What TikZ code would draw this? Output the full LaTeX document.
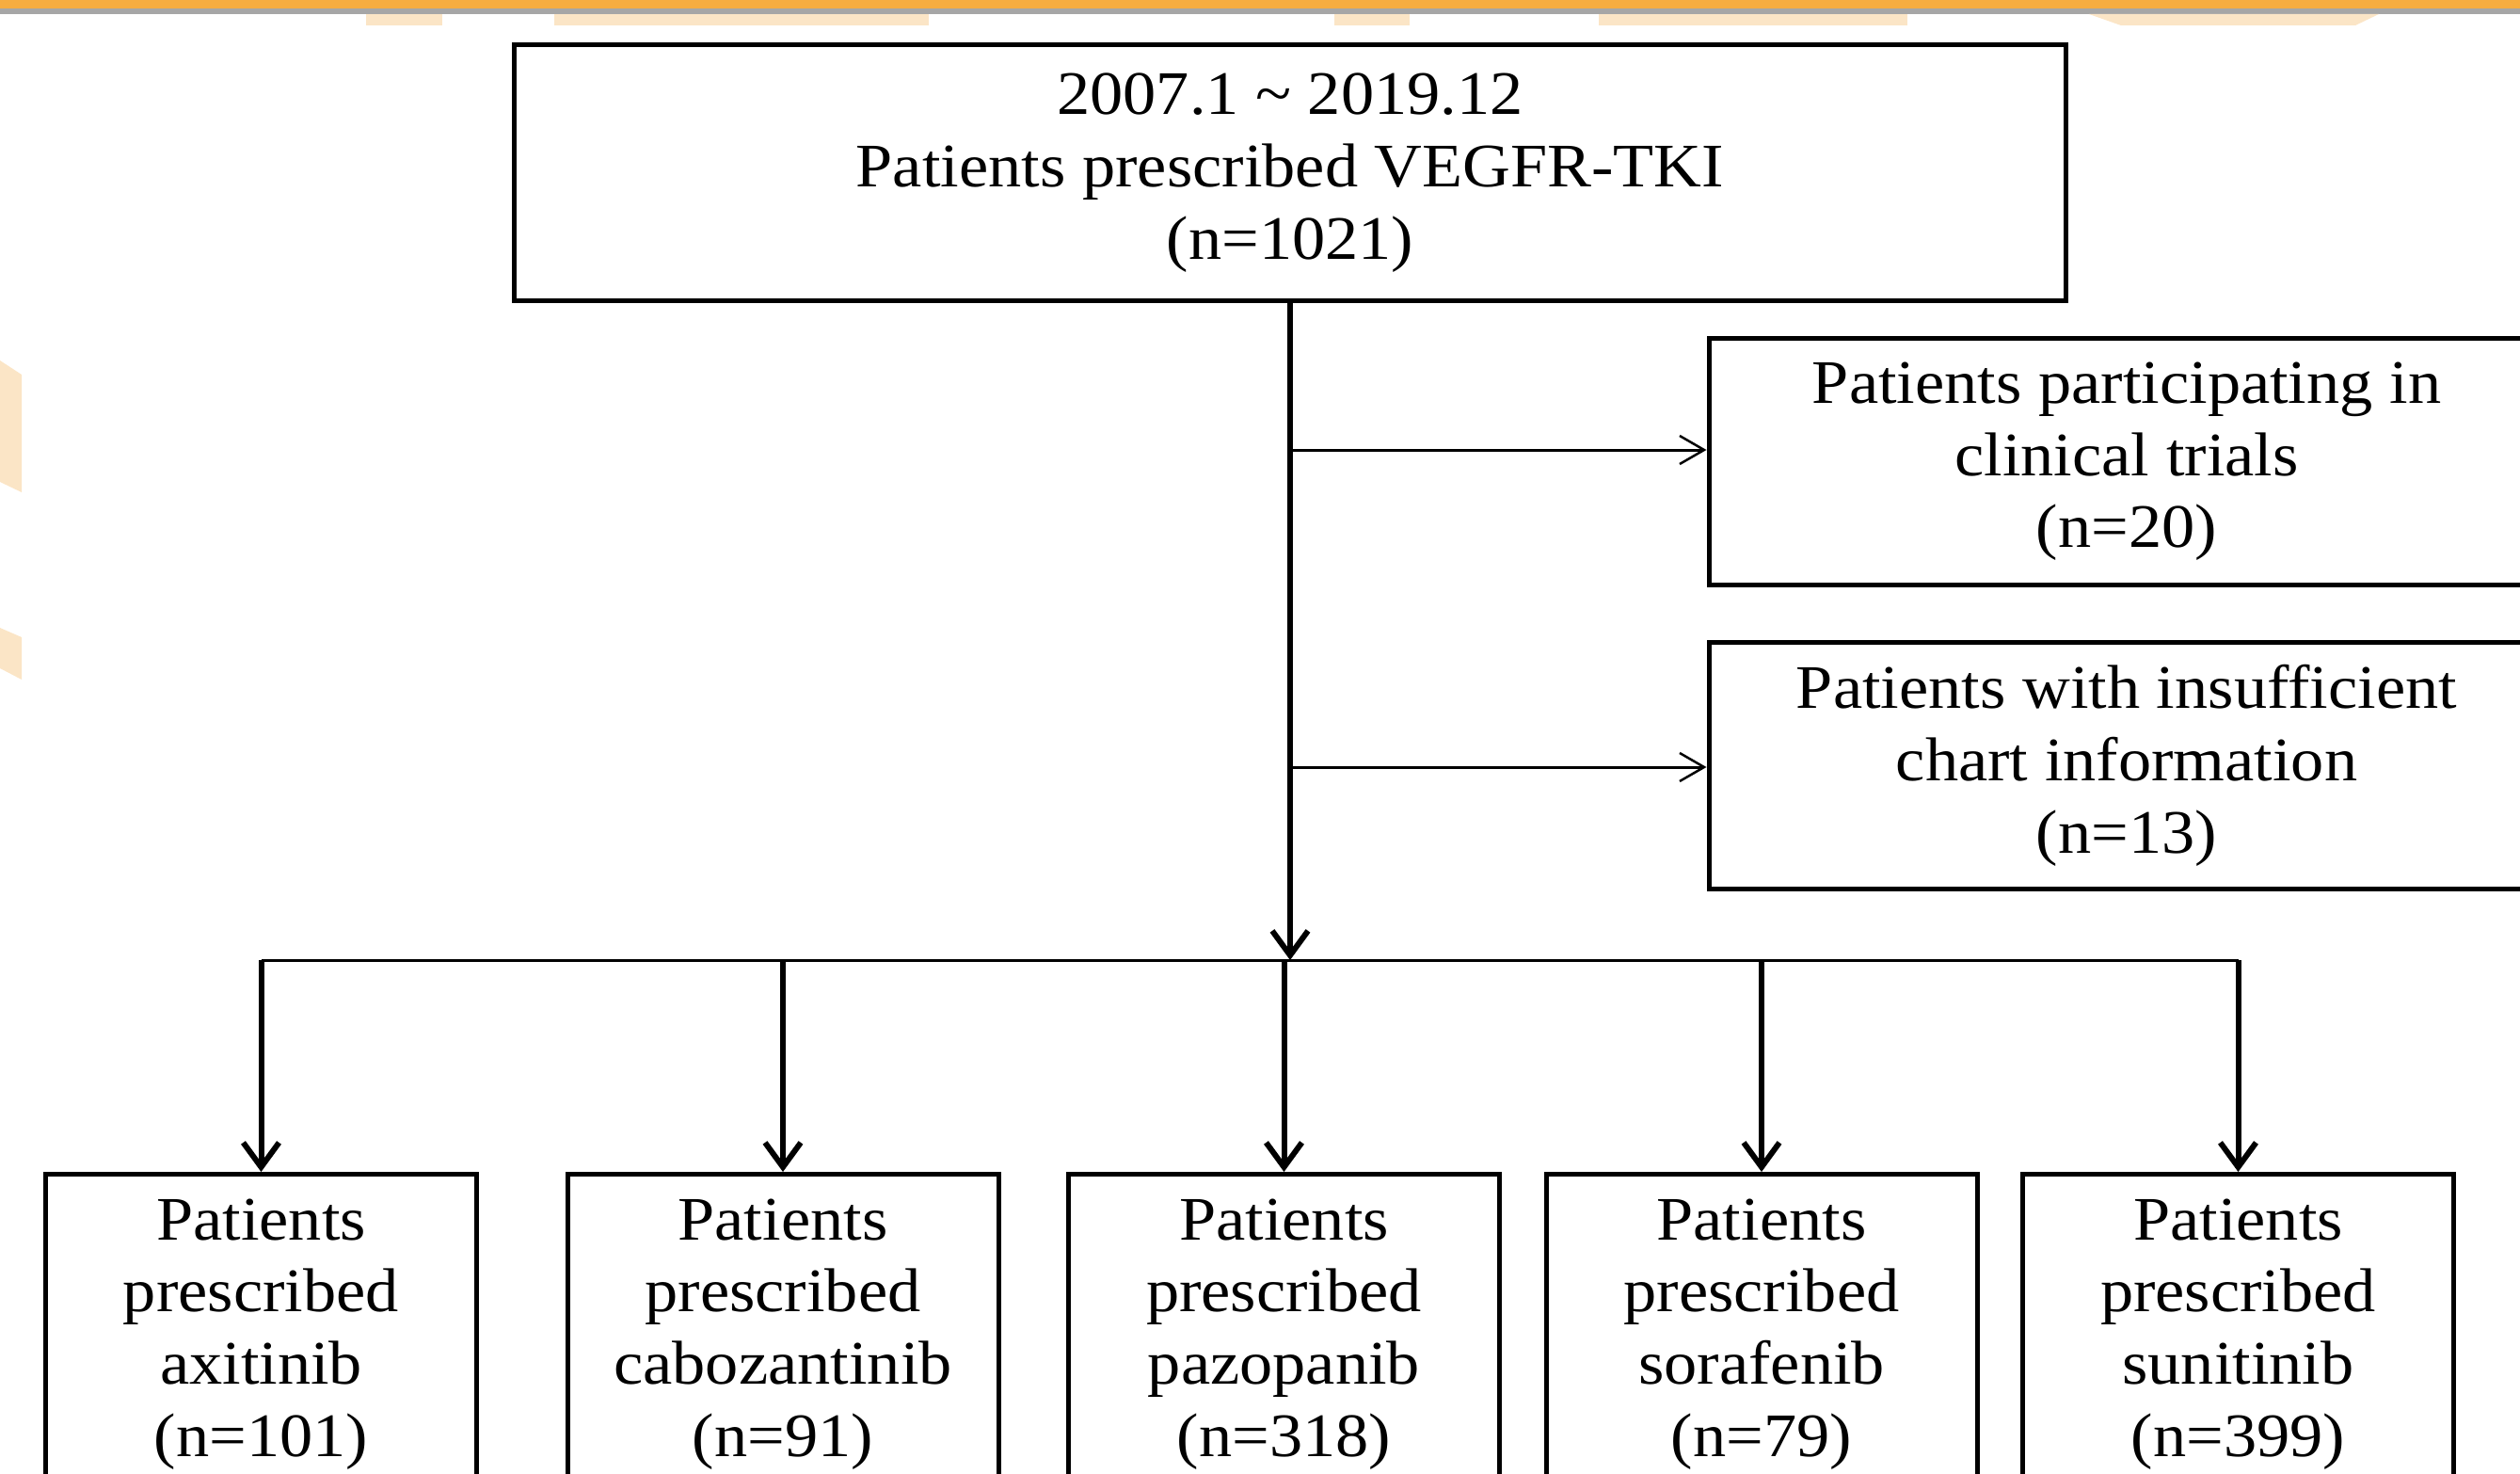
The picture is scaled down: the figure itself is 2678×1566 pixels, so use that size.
\documentclass[tikz,border=0pt]{standalone}
\usepackage{fontspec}
\setmainfont{Liberation Serif}[FakeStretch=1.07]
\usepackage{tikz}
\usetikzlibrary{arrows.meta,positioning}
\definecolor{bandorange}{RGB}{246,173,65}
\definecolor{bandgray}{RGB}{166,166,166}
\definecolor{paleorange}{RGB}{251,229,198}

\begin{document}
\begin{tikzpicture}[x=1bp, y=-1bp,
  box/.style={draw=black, line width=5bp, align=center, inner sep=0pt,
    font=\fontsize{66}{77}\selectfont},
  drugbox/.style={box, anchor=north, minimum width=458bp, minimum height=340bp},
  sidebox/.style={box, minimum width=888bp, minimum height=262bp},
  mainline/.style={black, line width=6bp, -{Straight Barb[length=26bp, width=38bp]}},
  sideline/.style={black, line width=3bp, -{Straight Barb[length=26bp, width=30bp, line width=2.5bp]}},
  busline/.style={black, line width=3bp}]
\useasboundingbox (0,0) rectangle (2678,1566);
\clip (0,0) rectangle (2678,1566);

\fill [bandorange] (0,0) rectangle (2678,9.5);
\fill [bandgray] (0,9.5) rectangle (2678,15);
\fill [paleorange] (389,15) rectangle (470,27);
\fill [paleorange] (589,15) rectangle (987,27);
\fill [paleorange] (1418,15) rectangle (1498,27);
\fill [paleorange] (1699,15) rectangle (2027,27);
\fill [paleorange] (2220,15) -- (2528,15) -- (2503,27) -- (2254,27) -- cycle;
\fill [paleorange] (0,383) -- (23,398) -- (23,523) -- (0,512) -- cycle;
\fill [paleorange] (0,667) -- (23,677) -- (23,722) -- (0,710) -- cycle;

\node [box, minimum width=1648bp, minimum height=271bp] (total) at (1371,183.5)
  {2007.1 \textasciitilde\ 2019.12\\Patients prescribed VEGFR-TKI\\(n=1021)};

\node [sidebox] (trials) at (2260,490.5)
  {Patients participating in\\clinical trials\\(n=20)};
\node [sidebox] (chart) at (2260,813.5)
  {Patients with insufficient\\chart information\\(n=13)};

\node [drugbox] (axi) at (277.5,1245) {Patients\\prescribed\\axitinib\\(n=101)};
\node [drugbox] (cabo) at (832,1245) {Patients\\prescribed\\cabozantinib\\(n=91)};
\node [drugbox] (pazo) at (1364.5,1245) {Patients\\prescribed\\pazopanib\\(n=318)};
\node [drugbox] (sora) at (1872,1245) {Patients\\prescribed\\sorafenib\\(n=79)};
\node [drugbox] (suni) at (2378.5,1245) {Patients\\prescribed\\sunitinib\\(n=399)};

\coordinate (bus) at (1371,1020);
\coordinate (out1) at (1371,478);
\coordinate (out2) at (1371,815);

\draw [mainline] (total.south) -- (bus);
\draw [sideline] (out1) -- (out1 -| trials.west);
\draw [sideline] (out2) -- (out2 -| chart.west);
\draw [busline] (bus -| axi.north) -- (bus -| suni.north);

\foreach \drug in {axi,cabo,pazo,sora,suni}
  \draw [mainline] (bus -| \drug.north) -- (\drug.north);
\end{tikzpicture}
\end{document}
